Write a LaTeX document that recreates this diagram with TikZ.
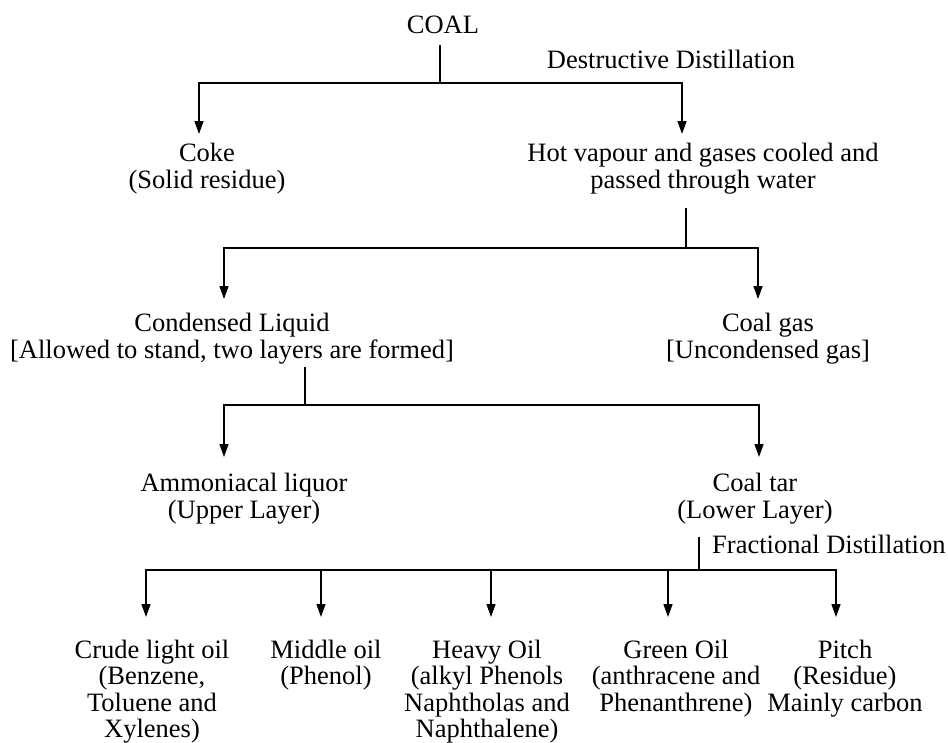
\documentclass[tikz,border=0pt]{standalone}
\usepackage{fontspec}
\setmainfont{Liberation Serif}
\usetikzlibrary{arrows.meta}
\begin{document}
\begin{tikzpicture}[x=1pt,y=-1pt,
  lbl/.style={font=\fontsize{26.5}{27}\selectfont, align=center, anchor=base, inner sep=0pt},
  lblb/.style={lbl, font=\fontsize{26.5}{26.5}\selectfont},
  ln/.style={line width=1.4pt},
  arr/.style={ln, -{Triangle[length=13pt,width=9pt]}}]
\useasboundingbox (0,0) rectangle (948,742);
% texts (anchor = baseline of last line)
\node[lbl] (coal) at (443,33) {COAL};
\node[lbl] (dd) at (671,68) {Destructive Distillation};
\node[lbl] (coke) at (207,188) {Coke\\(Solid residue)};
\node[lbl] (hot) at (703,188) {Hot vapour and gases cooled and\\passed through water};
\node[lbl] (cond) at (232,358) {Condensed Liquid\\{}[Allowed to stand, two layers are formed]};
\node[lbl] (gas) at (768,358) {Coal gas\\{}[Uncondensed gas]};
\node[lbl] (amm) at (244,518) {Ammoniacal liquor\\(Upper Layer)};
\node[lbl] (tar) at (755,518) {Coal tar\\(Lower Layer)};
\node[lbl, anchor=base west] (fd) at (712,553) {Fractional Distillation};
\node[lblb] (crude) at (152,737.5) {Crude light oil\\(Benzene,\\Toluene and\\Xylenes)};
\node[lblb] (mid) at (326,684.5) {Middle oil\\(Phenol)};
\node[lblb] (heavy) at (487,737.5) {Heavy Oil\\(alkyl Phenols\\Naphtholas and\\Naphthalene)};
\node[lblb] (green) at (676,711) {Green Oil\\(anthracene and\\Phenanthrene)};
\node[lblb] (pitch) at (845,711) {Pitch\\(Residue)\\Mainly carbon};
% junctions
\coordinate (s1) at (440,45);  \coordinate (j1) at (440,83);
\coordinate (t1a) at (199,134); \coordinate (t1b) at (682,134);
\coordinate (s2) at (686,208); \coordinate (j2) at (686,248);
\coordinate (t2a) at (224,299); \coordinate (t2b) at (758,299);
\coordinate (s3) at (305,367); \coordinate (j3) at (305,405);
\coordinate (t3a) at (224,457); \coordinate (t3b) at (759,457);
\coordinate (s4) at (699,537); \coordinate (j4) at (699,570);
\coordinate (t4a) at (146,617); \coordinate (t4b) at (321,617);
\coordinate (t4c) at (491,617); \coordinate (t4d) at (668,617);
\coordinate (t4e) at (836,617);
% connectors
\draw[ln] (s1) -- (j1);
\draw[arr] (j1) -| (t1a);
\draw[arr] (j1) -| (t1b);
\draw[ln] (s2) -- (j2);
\draw[arr] (j2) -| (t2a);
\draw[arr] (j2) -| (t2b);
\draw[ln] (s3) -- (j3);
\draw[arr] (j3) -| (t3a);
\draw[arr] (j3) -| (t3b);
\draw[ln] (s4) -- (j4);
\draw[arr] (j4) -| (t4a);
\draw[arr] (j4) -| (t4b);
\draw[arr] (j4) -| (t4c);
\draw[arr] (j4) -| (t4d);
\draw[arr] (j4) -| (t4e);
\end{tikzpicture}
\end{document}
